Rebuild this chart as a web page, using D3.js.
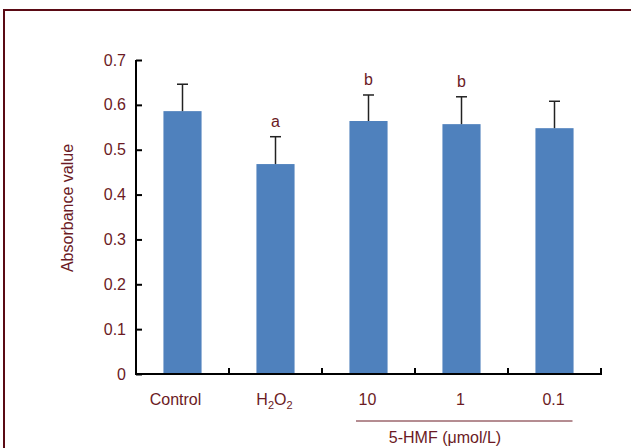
<!DOCTYPE html>
<html><head><meta charset="utf-8">
<script src="https://cdn.jsdelivr.net/npm/d3@7"></script>
<style>body{margin:0;background:#fff}svg{display:block}text{font-family:"Liberation Sans",Arial,sans-serif}</style>
</head><body>
<svg id="c" width="631" height="448"></svg>
<script>
const categories = ["Control", "H2O2", "10", "1", "0.1"];
const values = [0.586, 0.468, 0.564, 0.557, 0.548];
const errors = [0.060, 0.061, 0.058, 0.061, 0.060];
const letters = ["", "a", "b", "b", ""];
const yTicks = [0, 0.1, 0.2, 0.3, 0.4, 0.5, 0.6, 0.7];
const groupLabel = "5-HMF (μmol/L)";
const yTitle = "Absorbance value";

const txt = "#6b1a24";
const fs = 16;
const svg = d3.select("#c");
// frame
svg.append("path").attr("d", "M4,448 V10 H631").attr("fill", "none").attr("stroke", "#5a0a14").attr("stroke-width", 2);

const x = d3.scaleBand().domain(categories).range([136, 601]).paddingInner(0.59).paddingOuter(0.295);
const y = d3.scaleLinear().domain([0, 0.7]).range([374, 60]);

// bars
svg.selectAll("rect.bar").data(categories).join("rect")
  .attr("x", d => x(d)).attr("width", x.bandwidth())
  .attr("y", (d, i) => y(values[i])).attr("height", (d, i) => y(0) - y(values[i]))
  .attr("fill", "#4f81bd");

// error bars
const eb = svg.append("g").attr("stroke", "#222").attr("stroke-width", 1.5);
categories.forEach((d, i) => {
  const cx = x(d) + x.bandwidth() / 2;
  eb.append("line").attr("x1", cx).attr("x2", cx).attr("y1", y(values[i])).attr("y2", y(values[i] + errors[i]));
  eb.append("line").attr("x1", cx - 5.5).attr("x2", cx + 5.5).attr("y1", y(values[i] + errors[i])).attr("y2", y(values[i] + errors[i]));
  if (letters[i]) svg.append("text").attr("x", cx).attr("y", y(values[i] + errors[i]) - 10)
    .attr("text-anchor", "middle").attr("fill", txt).attr("font-size", fs).text(letters[i]);
});

// y axis
const ya = svg.append("g").attr("transform", "translate(136,0)")
  .call(d3.axisRight(y).tickValues(yTicks).tickSize(6).tickFormat(d => d === 0 ? "0" : d3.format(".1f")(d)));
ya.attr("font-size", fs).attr("font-family", null);
ya.select(".domain").attr("stroke", "#000").attr("stroke-width", 2).attr("d", "M0,60V374");
ya.selectAll(".tick line").attr("stroke", "#000").attr("stroke-width", 2);
ya.selectAll(".tick text").attr("x", -10).attr("text-anchor", "end").attr("fill", txt).attr("font-size", fs);

// x axis
const xEdges = d3.range(categories.length + 1).map(i => 136 + i * (601 - 136) / categories.length);
const xa = svg.append("g");
xa.append("line").attr("x1", 135).attr("x2", 602).attr("y1", 374).attr("y2", 374).attr("stroke", "#000").attr("stroke-width", 2);
xEdges.slice(1).forEach(e => xa.append("line").attr("x1", e).attr("x2", e).attr("y1", 374).attr("y2", 368).attr("stroke", "#000").attr("stroke-width", 2));
categories.forEach((d, i) => {
  const shift = i === 0 ? -7 : -1;
  const t = svg.append("text").attr("x", x(d) + x.bandwidth() / 2 + shift).attr("y", 405)
    .attr("text-anchor", "middle").attr("fill", txt).attr("font-size", fs);
  if (d === "H2O2") {
    t.append("tspan").text("H");
    t.append("tspan").text("2").attr("font-size", 11).attr("dy", 4);
    t.append("tspan").text("O").attr("dy", -4);
    t.append("tspan").text("2").attr("font-size", 11).attr("dy", 4);
  } else t.text(d);
});
// group line
const gx1 = x("10") + x.bandwidth() / 2 - 12.5, gx2 = x("0.1") + x.bandwidth() / 2 + 18;
svg.append("line").attr("x1", gx1).attr("x2", gx2).attr("y1", 421).attr("y2", 421).attr("stroke", "#6b1a24").attr("stroke-width", 1);
svg.append("text").attr("x", 445).attr("y", 443).attr("text-anchor", "middle").attr("fill", txt).attr("font-size", fs).text(groupLabel);

// y title
svg.append("text").attr("transform", "translate(73,208) rotate(-90)").attr("text-anchor", "middle")
  .attr("fill", txt).attr("font-size", fs).text(yTitle);
</script>
</body></html>
